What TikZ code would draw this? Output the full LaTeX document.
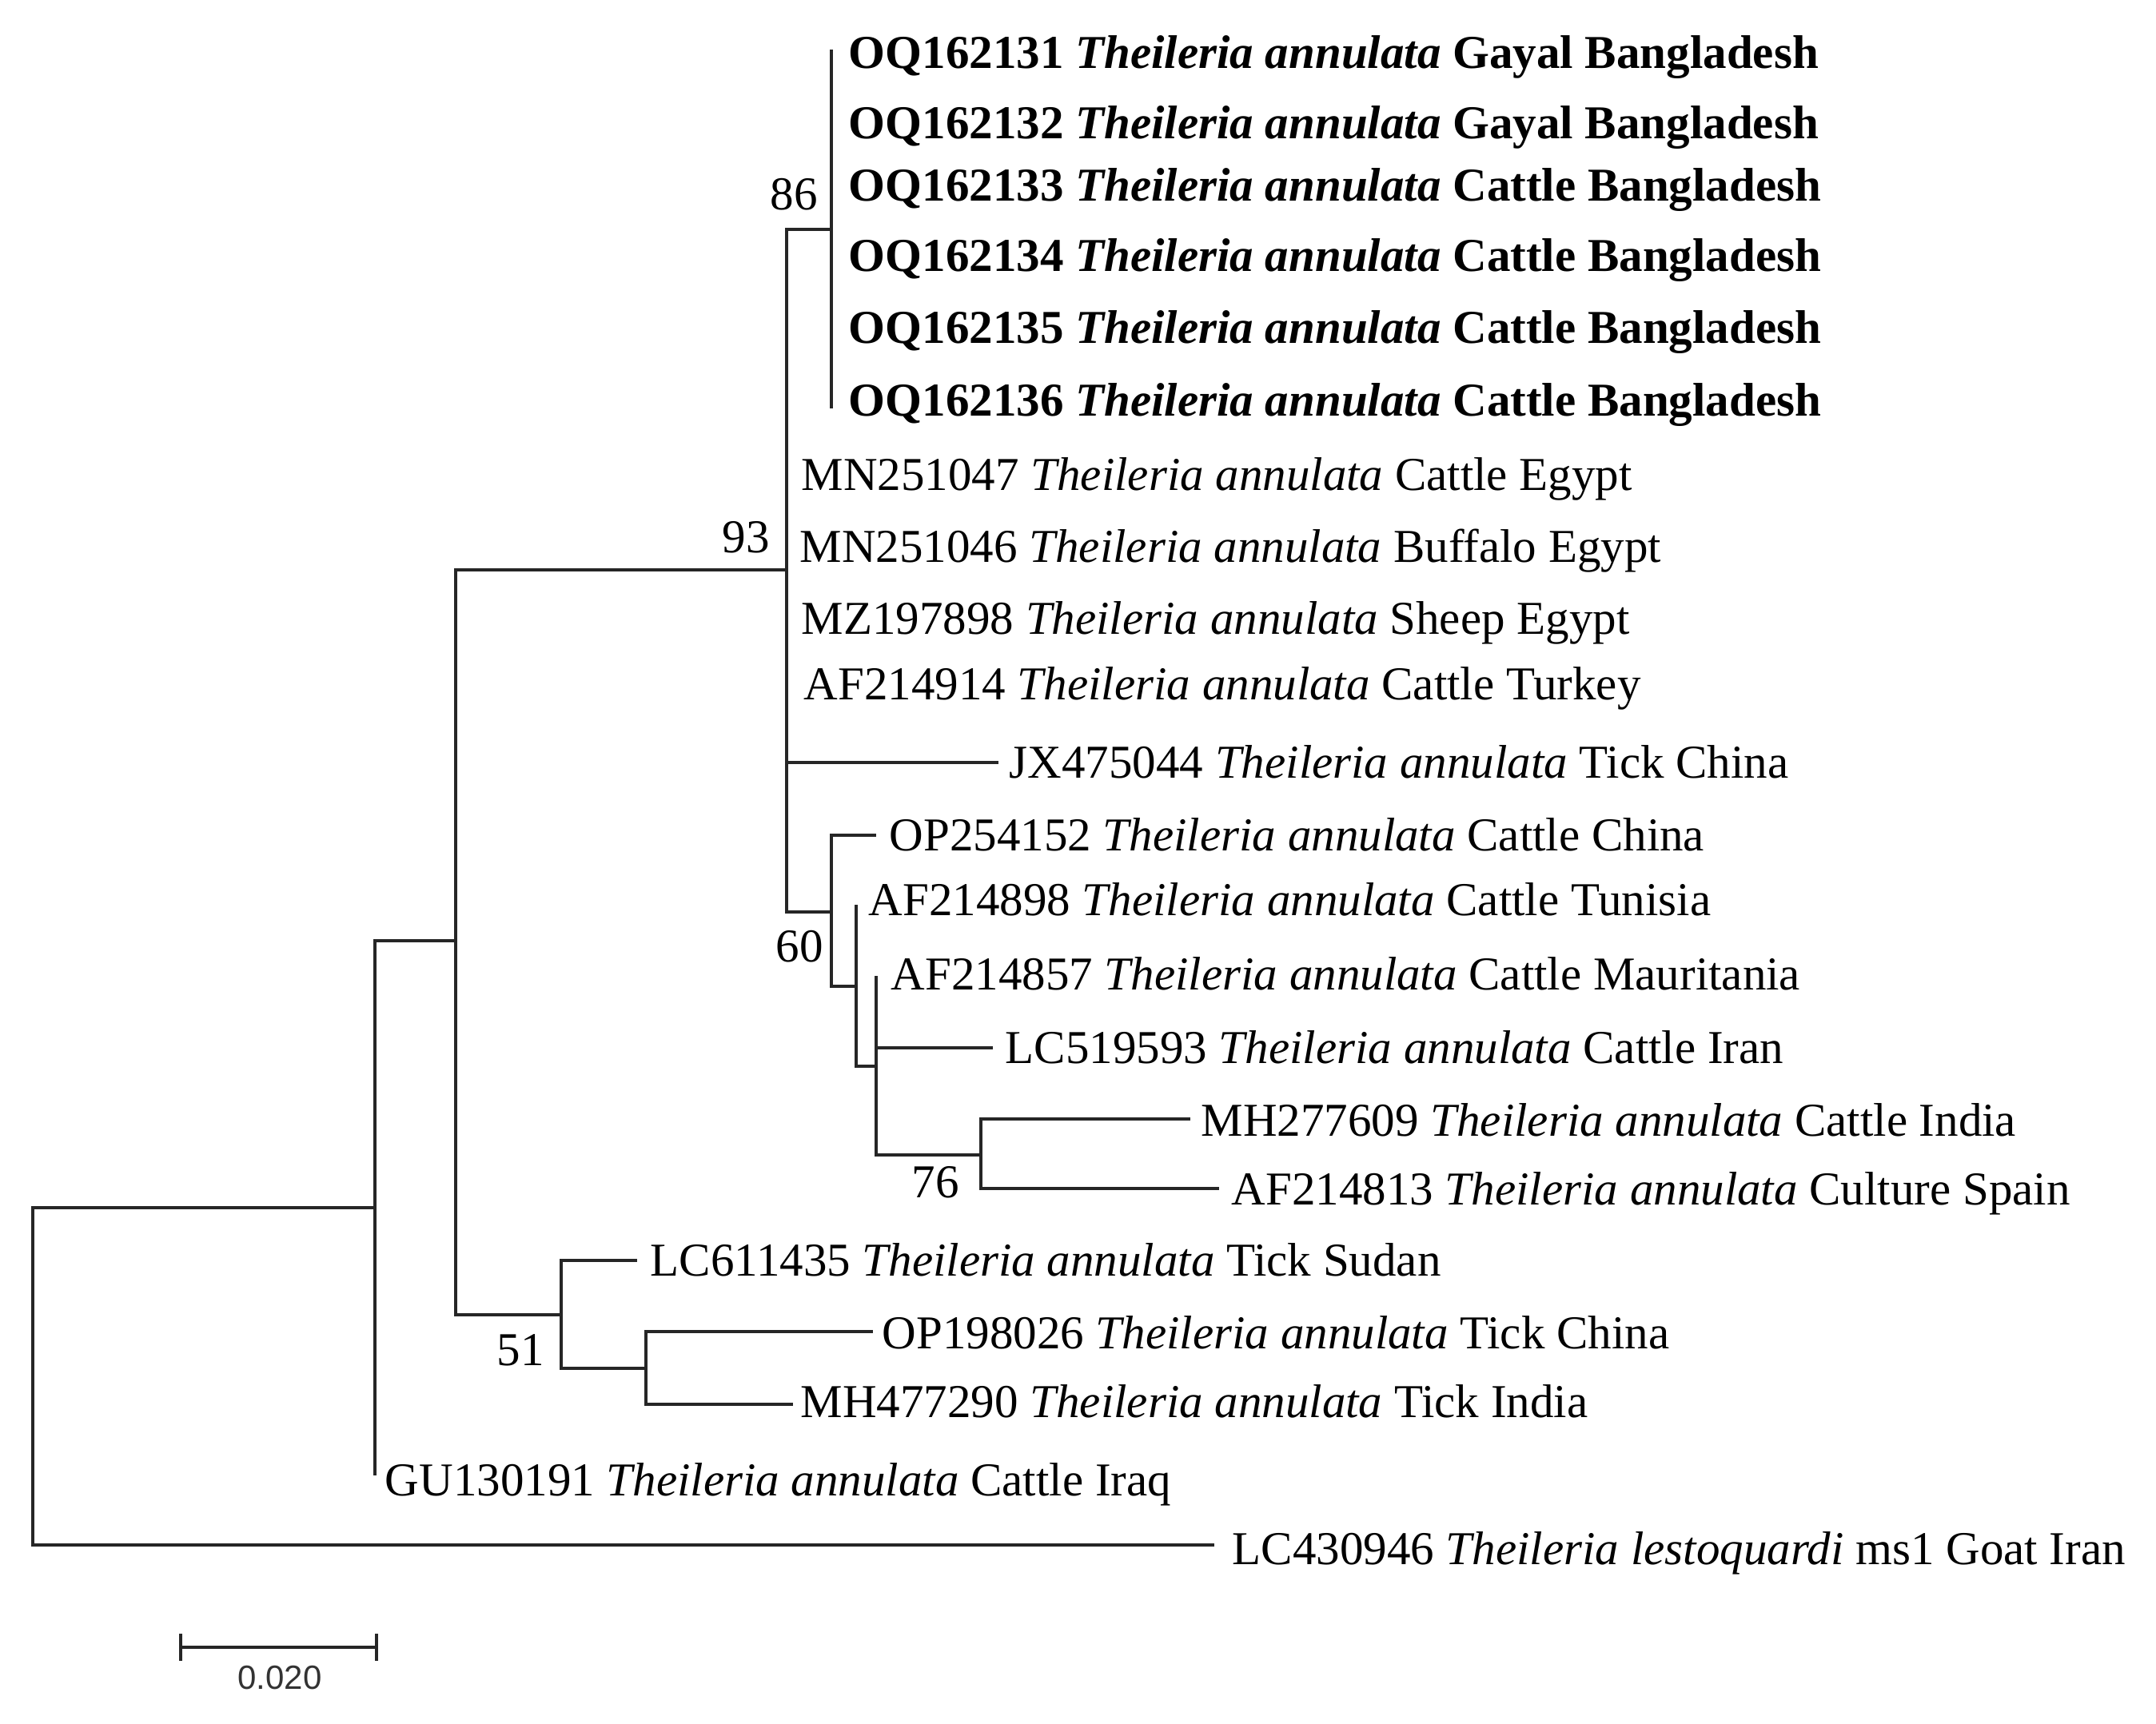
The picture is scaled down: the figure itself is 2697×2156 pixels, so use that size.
\documentclass[tikz,border=0pt]{standalone}
\usepackage{fontspec}
\setmainfont{Liberation Serif}
\newfontfamily\barfont{Liberation Sans}
\begin{document}
\begin{tikzpicture}[x=0.25pt,y=-0.25pt,
  br/.style={line width=1.1pt, draw=black!85},
  lab/.style={anchor=base west, inner sep=0pt, font=\fontsize{14.75}{17}\selectfont},
  boot/.style={anchor=center, inner sep=0pt, font=\fontsize{14.75}{17}\selectfont}]
\useasboundingbox (0,0) rectangle (2697,2156);
% internal nodes
\coordinate (R) at (41,1722);
\coordinate (A) at (469,1511);
\coordinate (B) at (570,1177);
\coordinate (N93) at (984,713);
\coordinate (N86) at (1040,287);
\coordinate (N60) at (1040,1141);
\coordinate (C) at (1071,1234);
\coordinate (D) at (1096,1334);
\coordinate (N76) at (1227,1445);
\coordinate (N51) at (702,1645);
\coordinate (E) at (808,1712);
% leaf tips
\coordinate (lOQ1) at (1040,62);
\coordinate (lOQ6) at (1040,511);
\coordinate (lMN47) at (984,594);
\coordinate (lMN46) at (984,683);
\coordinate (lMZ) at (984,772);
\coordinate (lAF914) at (984,854);
\coordinate (lJX) at (1249,954);
\coordinate (lOP254) at (1096,1045);
\coordinate (lAF898) at (1071,1132);
\coordinate (lAF857) at (1096,1221);
\coordinate (lLC519) at (1242,1311);
\coordinate (lMH609) at (1489,1400);
\coordinate (lAF813) at (1525,1487);
\coordinate (lLC611) at (797,1577);
\coordinate (lOP198) at (1092,1666);
\coordinate (lMH290) at (992,1757);
\coordinate (lGU) at (469,1846);
\coordinate (lLC430) at (1519,1933);
% branches
\draw[br] (R) |- (A);
\draw[br] (R) |- (lLC430);
\draw[br] (A) |- (B);
\draw[br] (A) |- (lGU);
\draw[br] (B) |- (N93);
\draw[br] (B) |- (N51);
\draw[br] (N93) |- (N86);
\draw[br] (N93) |- (lMN47);
\draw[br] (N93) |- (lJX);
\draw[br] (N93) |- (N60);
\draw[br] (N86) |- (lOQ1);
\draw[br] (N86) |- (lOQ6);
\draw[br] (N60) |- (lOP254);
\draw[br] (N60) |- (C);
\draw[br] (C) |- (lAF898);
\draw[br] (C) |- (D);
\draw[br] (D) |- (lAF857);
\draw[br] (D) |- (lLC519);
\draw[br] (D) |- (N76);
\draw[br] (N76) |- (lMH609);
\draw[br] (N76) |- (lAF813);
\draw[br] (N51) |- (lLC611);
\draw[br] (N51) |- (E);
\draw[br] (E) |- (lOP198);
\draw[br] (E) |- (lMH290);
% taxon labels
\node[lab] (tOQ1) at (1061,85) {\textbf{OQ162131 \textit{Theileria annulata} Gayal Bangladesh}};
\node[lab] (tOQ2) at (1061,173) {\textbf{OQ162132 \textit{Theileria annulata} Gayal Bangladesh}};
\node[lab] (tOQ3) at (1061,251) {\textbf{OQ162133 \textit{Theileria annulata} Cattle Bangladesh}};
\node[lab] (tOQ4) at (1061,339) {\textbf{OQ162134 \textit{Theileria annulata} Cattle Bangladesh}};
\node[lab] (tOQ5) at (1061,429) {\textbf{OQ162135 \textit{Theileria annulata} Cattle Bangladesh}};
\node[lab] (tOQ6) at (1061,520) {\textbf{OQ162136 \textit{Theileria annulata} Cattle Bangladesh}};
\node[lab] (tMN47) at (1002,613) {MN251047 \textit{Theileria annulata} Cattle Egypt};
\node[lab] (tMN46) at (1000,703) {MN251046 \textit{Theileria annulata} Buffalo Egypt};
\node[lab] (tMZ) at (1002,793) {MZ197898 \textit{Theileria annulata} Sheep Egypt};
\node[lab] (tAF914) at (1005,875) {AF214914 \textit{Theileria annulata} Cattle Turkey};
\node[lab] (tJX) at (1262,973) {JX475044 \textit{Theileria annulata} Tick China};
\node[lab] (tOP254) at (1112,1064) {OP254152 \textit{Theileria annulata} Cattle China};
\node[lab] (tAF898) at (1086,1145) {AF214898 \textit{Theileria annulata} Cattle Tunisia};
\node[lab] (tAF857) at (1114,1238) {AF214857 \textit{Theileria annulata} Cattle Mauritania};
\node[lab] (tLC519) at (1257,1330) {LC519593 \textit{Theileria annulata} Cattle Iran};
\node[lab] (tMH609) at (1502,1421) {MH277609 \textit{Theileria annulata} Cattle India};
\node[lab] (tAF813) at (1540,1507) {AF214813 \textit{Theileria annulata} Culture Spain};
\node[lab] (tLC611) at (813,1596) {LC611435 \textit{Theileria annulata} Tick Sudan};
\node[lab] (tOP198) at (1103,1687) {OP198026 \textit{Theileria annulata} Tick China};
\node[lab] (tMH290) at (1001,1773) {MH477290 \textit{Theileria annulata} Tick India};
\node[lab] (tGU) at (481,1871) {GU130191 \textit{Theileria annulata} Cattle Iraq};
\node[lab] (tLC430) at (1541,1957) {LC430946 \textit{Theileria lestoquardi} ms1 Goat Iran};
% bootstrap values
\node[boot] (b86) at (993,243) {86};
\node[boot] (b93) at (933,672) {93};
\node[boot] (b60) at (1000,1184) {60};
\node[boot] (b76) at (1170,1479) {76};
\node[boot] (b51) at (651,1689) {51};
% scale bar
\coordinate (sbL) at (226,2061);
\coordinate (sbR) at (471,2061);
\draw[br] (sbL) -- (sbR);
\draw[br] (sbL) ++(0,-17) -- ++(0,34);
\draw[br] (sbR) ++(0,-17) -- ++(0,34);
\node[anchor=center, inner sep=0pt, text=black!80, font=\barfont\fontsize{10.5}{12}\selectfont] (sblab) at (350,2099) {0.020};
\end{tikzpicture}
\end{document}
